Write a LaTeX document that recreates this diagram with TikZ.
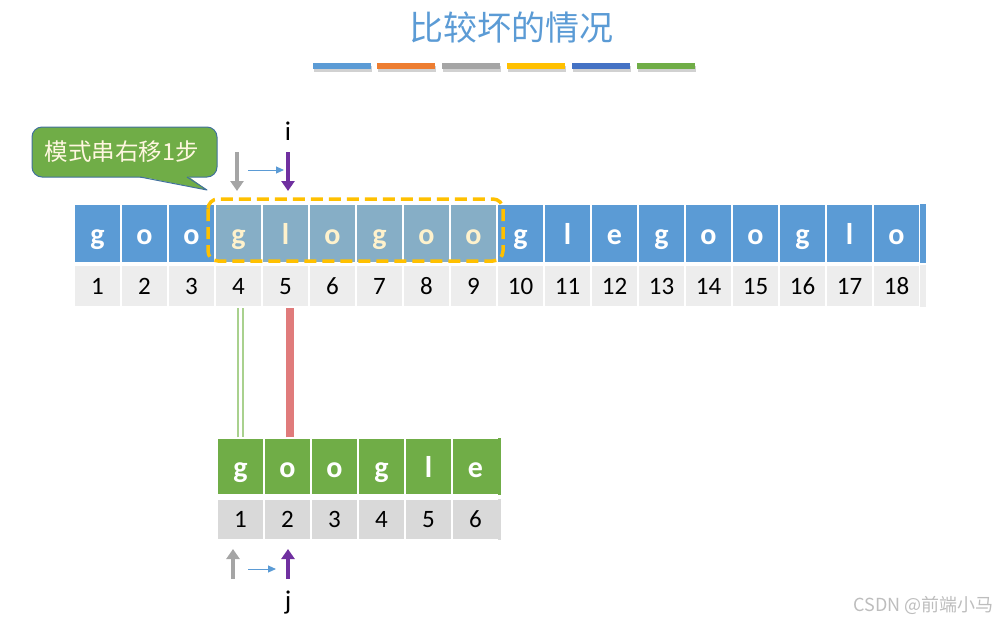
\documentclass[tikz,border=0pt]{standalone}
\usepackage{fontspec}
\setmainfont{Carlito}
\newfontfamily\cjk{Noto Sans CJK SC}
\usetikzlibrary{arrows.meta,calc}
\definecolor{tblue}{HTML}{5B9BD5}
\definecolor{hblue}{HTML}{86AEC6}
\definecolor{cream}{HTML}{FFF2CC}
\definecolor{numtop}{HTML}{EDEDED}
\definecolor{numbot}{HTML}{D9D9D9}
\definecolor{pgreen}{HTML}{70AD47}
\definecolor{lgreen}{HTML}{A9D18E}
\definecolor{rline}{HTML}{E07B7B}
\definecolor{dorange}{HTML}{FFC000}
\definecolor{cborder}{HTML}{41719C}
\definecolor{purp}{HTML}{7030A0}
\definecolor{gry}{HTML}{A5A5A5}
\definecolor{borange}{HTML}{ED7D31}
\definecolor{bdblue}{HTML}{4472C4}
\definecolor{wmgray}{HTML}{BDBDBD}
\begin{document}
\begin{tikzpicture}[x=1pt,y=-1pt,
  cellbase/.style={draw=white,line width=1.5pt,inner sep=0pt,minimum width=47pt},
  lettercell/.style={cellbase,text height=22pt,text depth=0pt,font=\fontsize{30}{30}\selectfont\bfseries},
  numcell/.style={cellbase,text=black,text height=16pt,text depth=0pt,font=\fontsize{25}{25}\selectfont},
  tcell/.style={lettercell,fill=tblue,text=white,minimum height=59pt},
  hcell/.style={lettercell,fill=hblue,text=cream,minimum height=59pt},
  tnum/.style={numcell,fill=numtop,minimum height=42pt},
  pcell/.style={lettercell,fill=pgreen,text=white,minimum height=57pt},
  pnum/.style={numcell,fill=numbot,minimum height=41pt},
  fatarrow/.style={line width=4.5pt,-{Triangle[width=13pt,length=10pt]}},
  thinarrow/.style={draw=tblue,line width=1pt,-{Triangle[width=7pt,length=8pt]}},
  dashbox/.style={draw=dorange,line width=3.5pt,dash pattern=on 12pt off 6pt,rounded corners=10pt},
  ptr/.style={font=\fontsize{27}{27}\selectfont,inner sep=0pt}
]
\useasboundingbox (0,0) rectangle (999,622);

% title
\node[text=tblue,font=\cjk\fontsize{34}{34}\selectfont,inner sep=0pt] (title) at (511,28) {比较坏的情况};
\foreach \x/\c in {313/tblue,377/borange,442/gry,507/dorange,572/bdblue,637/pgreen}{
  \fill[black!18] (\x+1,66) rectangle (\x+59,71.5);
  \fill[\c] (\x,63) rectangle (\x+58,69);
}

% text row
\foreach \c/\s [count=\k] in {g/tcell,o/tcell,o/tcell,g/hcell,l/hcell,o/hcell,g/hcell,o/hcell,o/hcell,g/tcell,l/tcell,e/tcell,g/tcell,o/tcell,o/tcell,g/tcell,l/tcell,o/tcell}{
  \node[\s] (t\k) at ({50.5+47*\k},233.5) {\c};
  \node[tnum] (n\k) at ({50.5+47*\k},286) {\k};
}
\fill[tblue] (920,204) rectangle (926,263);
\fill[numtop] (920,265) rectangle (926,307);

% dashed window
\draw[dashbox] (208,199) rectangle (503,261);

% pattern row
\foreach \c [count=\k] in {g,o,o,g,l,e}{
  \node[pcell] (p\k) at ({193.5+47*\k},466.5) {\c};
  \node[pnum] (q\k) at ({193.5+47*\k},519.5) {\k};
}
\fill[pgreen] (498,438) rectangle (501,495);
\fill[numbot] (498,499) rectangle (501,540);

% comparison lines
\draw[draw=lgreen,double=white,double distance=3.5pt,line width=1.3pt] (p1.north) -- (p1.north |- n4.south);
\draw[draw=rline,line width=8pt] ([xshift=2.5pt]p2.north) -- ([xshift=2.5pt]p2.north |- n5.south);

% pointer i
\coordinate (ga) at (237,152); \coordinate (gb) at (237,191);
\coordinate (pa) at (288,152); \coordinate (pb) at (288,191);
\coordinate (ba) at (248,170); \coordinate (bb) at (284,170);
\draw[fatarrow,draw=gry,fill=gry] (ga) -- (gb);
\draw[fatarrow,draw=purp,fill=purp] (pa) -- (pb);
\draw[thinarrow,fill=tblue] (ba) -- (bb);
\node[ptr] (i) at (288,131) {i};

% pointer j
\coordinate (ja) at (233,579); \coordinate (jb) at (233,549);
\coordinate (ka) at (288,579); \coordinate (kb) at (288,549);
\coordinate (la) at (248,569); \coordinate (lb) at (276,569);
\draw[fatarrow,draw=gry,fill=gry] (ja) -- (jb);
\draw[fatarrow,draw=purp,fill=purp] (ka) -- (kb);
\draw[thinarrow,fill=tblue] (la) -- (lb);
\node[ptr] (j) at (288,603) {j};

% callout
\draw[fill=pgreen,draw=cborder,line width=1pt,rounded corners=10pt] (32,127) rectangle (217,177);
\fill[pgreen] (139,176.2) -- (207,190) -- (188,176.2) -- cycle;
\draw[draw=cborder,line width=1pt,line join=round] (140,177) -- (207,190) -- (187,177);
\node[text=cream!60!white,font=\cjk\fontsize{23.5}{23.5}\selectfont,inner sep=0pt] (co) at (122,152) {模式串右移1步};

% watermark
\node[anchor=east,text=wmgray,font=\cjk\fontsize{18}{18}\selectfont,inner sep=0pt] (wm) at (994,605) {CSDN @前端小马};
\end{tikzpicture}
\end{document}
